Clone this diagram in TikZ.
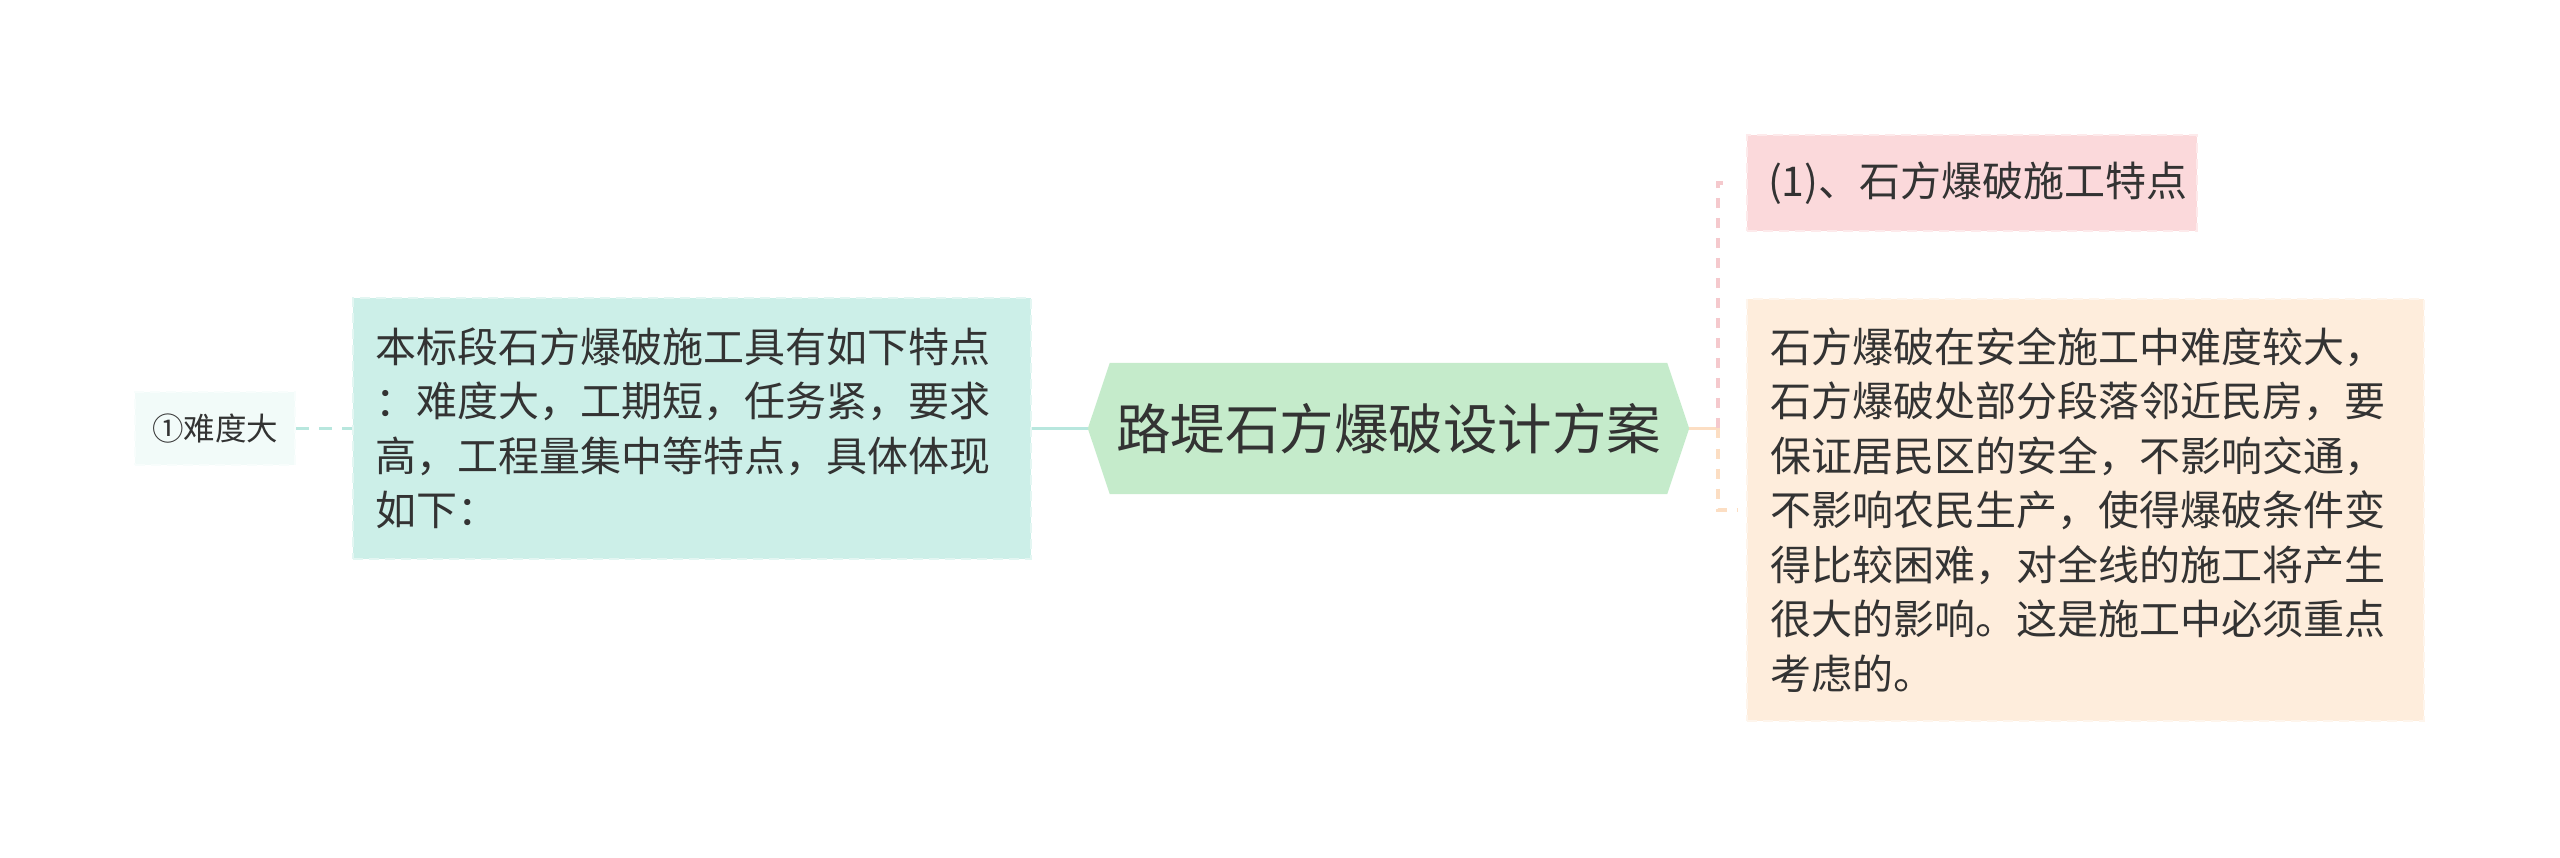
\documentclass[tikz,border=0pt]{standalone}
\usepackage{fontspec}
\setmainfont{Noto Sans CJK SC}
\usetikzlibrary{backgrounds}
\definecolor{txtgray}{HTML}{333333}
\definecolor{mintfill}{HTML}{CCEFE8}
\definecolor{mintpale}{HTML}{F2FBF9}
\definecolor{mintline}{HTML}{B8E7DE}
\definecolor{leaffill}{HTML}{C5EBCB}
\definecolor{rosefill}{HTML}{FBD9DB}
\definecolor{roseline}{HTML}{F5C9CD}
\definecolor{peachfill}{HTML}{FEEDDC}
\definecolor{peachline}{HTML}{FCDEC3}
\tikzset{
  topicbox/.style={rectangle, inner ysep=0pt, text=txtgray, align=left, dash pattern=on 10pt off 6pt, line width=2pt},
  bodytext/.style={font=\fontsize{41pt}{54.5pt}\selectfont},
}
\begin{document}
\begin{tikzpicture}[x=1pt,y=1pt,yscale=-1,xscale=1]
    \useasboundingbox (0,0) rectangle (2560,858);
    % Text Node
    \node[topicbox, fill=mintpale, draw=mintpale!50!white, minimum width=160pt, minimum height=73pt, inner xsep=0pt, font=\fontsize{31.5pt}{36pt}\selectfont] (hard) at (215,428.5) {①难度大};
    % Text Node
    \node[topicbox, bodytext, fill=mintfill, draw=mintfill!55!white, minimum width=678pt, minimum height=261pt, inner xsep=22pt, text width=634pt] (feature) at (692,428.5) {本标段石方爆破施工具有如下特点\\：难度大，工期短，任务紧，要求\\高，工程量集中等特点，具体体现\\如下：};
    % Text Node
    \node[text=txtgray, minimum width=601pt, minimum height=131pt, inner sep=0pt, font=\fontsize{54.5pt}{60pt}\selectfont] (title) at (1388.5,428.5) {路堤石方爆破设计方案};
    % Text Node
    \node[topicbox, bodytext, fill=rosefill, draw=rosefill!55!white, minimum width=450pt, minimum height=96pt, inner xsep=21pt, text width=408pt] (rock) at (1972,183) {(1)、石方爆破施工特点};
    % Text Node
    \node[topicbox, bodytext, fill=peachfill, draw=peachfill!55!white, minimum width=677pt, minimum height=422pt, inner xsep=23pt, text width=631pt] (detail) at (2085.5,510) {石方爆破在安全施工中难度较大，\\石方爆破处部分段落邻近民房，要\\保证居民区的安全，不影响交通，\\不影响农民生产，使得爆破条件变\\得比较困难，对全线的施工将产生\\很大的影响。这是施工中必须重点\\考虑的。};

    %Shape: Hexagon behind the title
    \begin{scope}[on background layer]
        \fill[leaffill] (title.west) -- ([xshift=22pt]title.north west) -- ([xshift=-22pt]title.north east) -- (title.east) -- ([xshift=-22pt]title.south east) -- ([xshift=22pt]title.south west) -- cycle;
    \end{scope}

    % Connectors
    \coordinate (fork) at (1718,428.5);
    \draw[mintline, line width=3.5pt, dash pattern=on 13pt off 10pt] (hard) -- (feature);
    \draw[mintline, line width=3.5pt] (feature) -- (title);
    \draw[peachline, line width=3.5pt] (title) -- (fork);
    \draw[roseline, line width=4pt, dash pattern=on 10pt off 10pt, shorten >=14pt] (fork) |- (rock);
    \draw[peachline, line width=4pt, dash pattern=on 10pt off 10pt, shorten >=9pt] (fork) |- (detail);
\end{tikzpicture}
\end{document}
